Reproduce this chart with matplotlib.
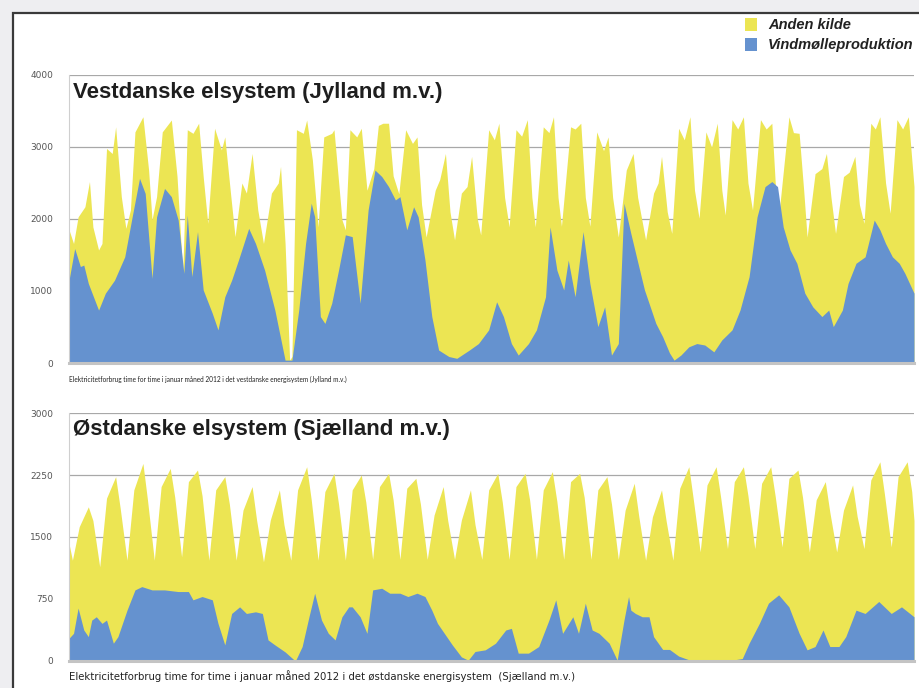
import matplotlib
matplotlib.use("Agg")
from matplotlib import pyplot as plt
from matplotlib import font_manager
from matplotlib.patches import Rectangle

# --- Vestdanske elsystem (Jylland m.v.), MW, hour of January 2012 ---
vest_total_hours = [0, 4, 8, 14, 18, 21, 26, 29, 33, 38, 41, 46, 50, 54, 58, 65, 70, 73,
                    77, 82, 90, 95, 100, 104, 109, 114, 118, 122, 128, 134, 137, 142, 146,
                    152, 156, 161, 166, 171, 178, 184, 186, 190, 194, 196, 200, 206, 209,
                    214, 219, 224, 231, 233, 240, 243, 247, 253, 257, 262, 268, 272, 276,
                    281, 285, 290, 296, 302, 306, 310, 314, 322, 326, 331, 335, 339, 345,
                    350, 354, 359, 362, 369, 374, 378, 383, 387, 393, 398, 403, 407, 410,
                    417, 422, 426, 430, 433, 441, 445, 450, 454, 458, 464, 470, 474, 478,
                    483, 490, 496, 500, 507, 514, 518, 521, 526, 530, 536, 541, 546, 550,
                    554, 560, 565, 570, 574, 577, 583, 588, 593, 597, 601, 608, 613, 618,
                    621, 624, 633, 637, 642, 646, 649, 656, 662, 666, 670, 674, 681, 686,
                    691, 695, 699, 705, 709, 713, 718, 722, 728, 733, 738, 743]
vest_total = [1850, 1660, 2030, 2170, 2520, 1890, 1570, 1660, 2980, 2910, 3280, 2310, 1870,
              2125, 3210, 3420, 2680, 1990, 2310, 3210, 3375, 2590, 1245, 3240, 3190, 3330,
              2590, 1940, 3260, 2960, 3140, 2360, 1755, 2500, 2360, 2910, 2125, 1660, 2360,
              2500, 2730, 1660, 40, 90, 3240, 3190, 3375, 2820, 1890, 3140, 3190, 3240, 1990,
              1850, 3240, 3140, 3260, 2400, 2700, 3300, 3330, 3330, 2600, 2350, 3240, 3050,
              3140, 2200, 1750, 2400, 2550, 2910, 2100, 1710, 2360, 2450, 2870, 2000, 1780,
              3240, 3100, 3330, 2300, 1890, 3240, 3150, 3380, 2300, 1890, 3280, 3200, 3420,
              2300, 1900, 3280, 3250, 3330, 2300, 1900, 3210, 2950, 3140, 2300, 1750, 2680,
              2910, 2300, 1710, 2360, 2500, 2870, 2100, 1800, 3260, 3100, 3420, 2400, 2010,
              3210, 3000, 3330, 2400, 2055, 3380, 3250, 3420, 2500, 2125, 3380, 3250, 3330,
              2500, 2030, 3420, 3200, 3190, 2400, 1750, 2630, 2700, 2910, 2300, 1800, 2590,
              2650, 2870, 2200, 1940, 3330, 3250, 3420, 2500, 2080, 3380, 3250, 3420, 2450]

vest_wind_hours = [0, 5, 10, 13, 17, 26, 32, 40, 49, 55, 62, 67, 73, 77, 84, 90, 96, 101, 104,
                   108, 113, 118, 126, 131, 137, 143, 149, 158, 164, 172, 181, 190, 196, 202,
                   208, 213, 216, 221, 225, 231, 237, 243, 249, 256, 263, 269, 275, 281, 287,
                   291, 297, 303, 307, 313, 319, 325, 334, 341, 352, 360, 369, 376, 382, 389,
                   395, 404, 411, 419, 423, 429, 435, 439, 445, 452, 458, 465, 471, 477, 483,
                   488, 494, 501, 506, 510, 516, 522, 528, 532, 538, 545, 552, 559, 567, 574,
                   583, 590, 598, 605, 612, 618, 623, 628, 634, 640, 647, 654, 662, 668, 672,
                   680, 685, 692, 700, 708, 713, 718, 724, 730, 735, 743]
vest_wind = [1150, 1590, 1340, 1360, 1105, 735, 970, 1150, 1475, 1985, 2565, 2355, 1175, 2030,
             2425, 2310, 1985, 1245, 2055, 1200, 1825, 1015, 690, 460, 920, 1150, 1430, 1870,
             1660, 1290, 735, 40, 40, 735, 1660, 2220, 2030, 645, 550, 830, 1290, 1780, 1755,
             830, 2125, 2680, 2590, 2450, 2265, 2310, 1850, 2170, 2030, 1430, 645, 180, 90,
             65, 180, 270, 460, 850, 645, 270, 110, 270, 460, 920, 1890, 1290, 1015, 1430,
             920, 1825, 1105, 505, 780, 110, 270, 2220, 1800, 1340, 1015, 830, 550, 365, 140,
             40, 110, 225, 270, 250, 155, 320, 460, 735, 1200, 2030, 2450, 2520, 2450, 1890,
             1570, 1385, 970, 780, 645, 735, 505, 735, 1105, 1385, 1475, 1985, 1850, 1660,
             1475, 1385, 1245, 970]

# --- Østdanske elsystem (Sjælland m.v.) ---
# consumption read per day at 03, 09, 17 and 21 o'clock
ost_sample_hours = [3, 9, 17, 21]
ost_night = [1220, 1140, 1220, 1220, 1260, 1220, 1220, 1200, 1220, 1220, 1220, 1230, 1230,
             1230, 1230, 1230, 1230, 1230, 1230, 1230, 1230, 1220, 1220, 1320, 1360, 1360,
             1380, 1320, 1320, 1360, 1380]
ost_morning = [1625, 1970, 2070, 2110, 2170, 2070, 1825, 1705, 2070, 2050, 2070, 2110, 2090,
               1765, 1705, 2070, 2110, 2070, 2170, 2070, 1825, 1745, 2090, 2130, 2170, 2150,
               2210, 1950, 1825, 2190, 2230]
ost_peak = [1865, 2230, 2390, 2330, 2310, 2230, 2110, 2070, 2350, 2270, 2250, 2270, 2210,
            2110, 2070, 2270, 2270, 2290, 2270, 2230, 2150, 2070, 2350, 2350, 2350, 2350,
            2310, 2170, 2130, 2410, 2410]
ost_evening = [1700, 1850, 1950, 1980, 2000, 1900, 1700, 1650, 1950, 1900, 1920, 1950, 1900,
               1700, 1650, 1920, 1950, 1930, 1980, 1900, 1750, 1700, 1950, 1980, 2000, 1990,
               1980, 1800, 1750, 2020, 2050]
ost_first, ost_last = 1420, 1700

ost_wind_hours = [0, 4, 8, 13, 17, 20, 24, 29, 33, 39, 43, 51, 58, 64, 73, 84, 96, 105, 109,
                  117, 126, 131, 137, 143, 150, 156, 164, 170, 175, 181, 190, 199, 205, 211,
                  216, 222, 228, 234, 240, 246, 249, 256, 262, 267, 275, 282, 291, 298, 306,
                  313, 319, 324, 328, 337, 345, 351, 357, 366, 375, 384, 389, 395, 404, 413,
                  422, 428, 434, 443, 448, 454, 460, 466, 475, 482, 488, 492, 494, 498, 504,
                  510, 514, 522, 528, 536, 548, 559, 571, 583, 592, 598, 607, 615, 624, 633,
                  642, 649, 656, 663, 669, 677, 683, 692, 700, 712, 723, 732, 743]
ost_wind = [275, 335, 640, 375, 295, 495, 535, 455, 495, 215, 295, 615, 860, 900, 860, 860,
            840, 840, 740, 780, 740, 455, 195, 575, 655, 575, 595, 575, 255, 195, 110, 0, 175,
            535, 820, 495, 335, 255, 535, 655, 655, 535, 335, 860, 880, 820, 820, 780, 820,
            780, 615, 455, 375, 195, 50, 10, 115, 135, 215, 375, 395, 95, 95, 175, 495, 740,
            335, 535, 335, 700, 375, 335, 215, 10, 495, 780, 615, 575, 535, 535, 295, 140, 140,
            60, 0, 10, 10, 10, 30, 215, 455, 700, 800, 655, 335, 135, 175, 375, 175, 175, 295,
            615, 575, 720, 575, 655, 535]

ost_total_hours = [0]
ost_total = [ost_first]
for day in range(31):
    for hour, value in zip(ost_sample_hours, [ost_night[day], ost_morning[day],
                                              ost_peak[day], ost_evening[day]]):
        ost_total_hours.append(day * 24 + hour)
        ost_total.append(value)
ost_total_hours.append(743)
ost_total.append(ost_last)

YELLOW = "#ece553"
BLUE = "#6592cf"
GRID = "#a8a8a8"

# narrow face for the small caption if there is one
installed = {f.name for f in font_manager.fontManager.ttflist}
if "Liberation Sans Narrow" in installed:
    caption_font, caption_size = "Liberation Sans Narrow", 5.6
else:
    caption_font, caption_size = "Lato", 4.7

W, H = 920, 688
fig = plt.figure(figsize=(W / 100, H / 100), dpi=100)
fig.patch.set_facecolor("#eeeef1")

# white sheet with dark border
fig.add_artist(Rectangle((13 / W, -0.05), 1.2, 1 - 13 / H + 0.05, transform=fig.transFigure,
                         facecolor="white", edgecolor="#3a3a3a", lw=1.6, zorder=0))


def panel(rect, tot_h, tot, wind_h, wind, ymax, ticks, title):
    ax = fig.add_axes(rect)
    ax.fill_between(tot_h, 0, tot, color=YELLOW, lw=0)
    ax.fill_between(wind_h, 0, wind, color=BLUE, lw=0)
    ax.set_xlim(0, 743)
    ax.set_ylim(0, ymax)
    ax.set_yticks(ticks)
    ax.set_yticklabels([str(t) for t in ticks])
    ax.set_xticks([])
    ax.grid(axis="y", color=GRID, lw=0.9)
    ax.set_axisbelow(True)
    for s in ("top", "right"):
        ax.spines[s].set_visible(False)
    ax.spines["left"].set_color("#cfcfcf")
    ax.spines["left"].set_linewidth(0.8)
    ax.spines["bottom"].set_color("#c4c4c4")
    ax.spines["bottom"].set_linewidth(2.2)
    ax.tick_params(axis="y", length=0, pad=11.5, labelsize=6.5, labelcolor="#555555")
    ax.text(0.005, 0.975, title, transform=ax.transAxes, fontsize=16, fontweight="bold",
            family="Liberation Sans", color="#1e1e1e", va="top", ha="left")
    return ax


panel([69 / W, 1 - 363 / H, 845 / W, 288 / H], vest_total_hours, vest_total,
      vest_wind_hours, vest_wind, 4000, [0, 1000, 2000, 3000, 4000],
      "Vestdanske elsystem (Jylland m.v.)")
panel([69 / W, 1 - 661 / H, 845 / W, 248 / H], ost_total_hours, ost_total,
      ost_wind_hours, ost_wind, 3000, [0, 750, 1500, 2250, 3000],
      "Østdanske elsystem (Sjælland m.v.)")

fig.text(69 / W, 1 - 379 / H,
         "Elektricitetforbrug time for time i januar måned 2012 i det vestdanske "
         "energisystem (Jylland m.v.)", fontsize=caption_size, family=caption_font,
         color="#222222", va="center", ha="left")
fig.text(69 / W, 1 - 676 / H,
         "Elektricitetforbrug time for time i januar måned 2012 i det østdanske "
         "energisystem  (Sjælland m.v.)", fontsize=7.3, family="DejaVu Sans", color="#222222",
         va="center", ha="left")

# legend
for y0, col, label in [(18, YELLOW, "Anden kilde"), (38, BLUE, "Vindmølleproduktion")]:
    fig.add_artist(Rectangle((745 / W, 1 - (y0 + 13) / H), 12 / W, 13 / H,
                             transform=fig.transFigure, color=col, lw=0))
    fig.text(768 / W, 1 - (y0 + 7) / H, label, fontsize=10.5, style="italic",
             fontweight="bold", family="Liberation Sans", color="#222222",
             va="center", ha="left")

fig.savefig("out.png", dpi=100, facecolor=fig.get_facecolor())
